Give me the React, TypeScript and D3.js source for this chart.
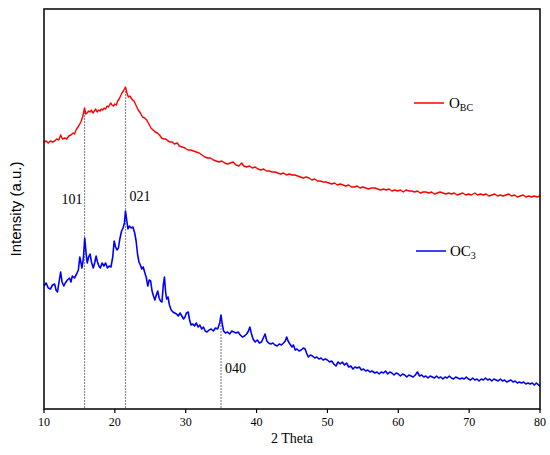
import * as d3 from "d3"

// XRD patterns, 2θ (deg) vs intensity (a.u.)
const obcSeries: [number, number][] = [
  [10.0, 267], [10.3, 268], [10.6, 266], [10.9, 268], [11.2, 267], [11.5, 268], [11.8, 270], [12.1, 269],
  [12.35, 274], [12.6, 270], [12.9, 271], [13.2, 270], [13.5, 273], [13.8, 274], [14.1, 276], [14.3, 275],
  [14.6, 280], [14.9, 283], [15.2, 287], [15.45, 292], [15.72, 301], [15.9, 295], [16.1, 296], [16.3, 298],
  [16.5, 297], [16.7, 299], [16.9, 296], [17.1, 298], [17.3, 300], [17.5, 297], [17.7, 299], [17.9, 298],
  [18.1, 300], [18.3, 299], [18.5, 301], [18.7, 300], [18.9, 303], [19.1, 302], [19.4, 306], [19.6, 304],
  [19.8, 303], [20.0, 305], [20.2, 304], [20.4, 308], [20.6, 310], [20.8, 313], [21.0, 316], [21.2, 318],
  [21.35, 320], [21.5, 322], [21.7, 316], [21.9, 312], [22.1, 313], [22.3, 311], [22.5, 309], [22.7, 308],
  [22.9, 305], [23.1, 302], [23.3, 299], [23.6, 296], [23.9, 292], [24.2, 291], [24.5, 289], [24.8, 285],
  [25.1, 281], [25.4, 279], [25.7, 277], [26.0, 276], [26.3, 274], [26.6, 271], [26.9, 270], [27.2, 270],
  [27.5, 268], [27.8, 267], [28.1, 267], [28.4, 265], [28.8, 266], [29.1, 263], [29.5, 262], [29.9, 261],
  [30.3, 259], [30.7, 259], [31.1, 258], [31.5, 257], [31.9, 256], [32.3, 254], [32.7, 252], [33.1, 251],
  [33.5, 251], [33.9, 249], [34.3, 248], [34.7, 247], [35.1, 248], [35.5, 246], [35.9, 245], [36.3, 246],
  [36.7, 247], [37.1, 244], [37.5, 243], [37.9, 246], [38.2, 243], [38.6, 242], [39.0, 243], [39.4, 241],
  [39.8, 242], [40.2, 240], [40.6, 239], [41.0, 240], [41.4, 238], [41.8, 238], [42.2, 237], [42.6, 237],
  [43.0, 236], [43.4, 235], [43.8, 236], [44.2, 234], [44.6, 235], [45.0, 234], [45.4, 234], [45.8, 233],
  [46.2, 232], [46.6, 231], [47.0, 232], [47.4, 231], [47.8, 229], [48.2, 230], [48.6, 228], [49.0, 228],
  [49.4, 227], [49.8, 227], [50.2, 226], [50.6, 225], [51.0, 226], [51.4, 224], [51.8, 225], [52.2, 224],
  [52.6, 223], [53.0, 224], [53.4, 222], [53.8, 222], [54.2, 223], [54.6, 221], [55.0, 222], [55.4, 221],
  [55.8, 220], [56.2, 221], [56.7, 221], [57.1, 220], [57.5, 219], [57.9, 220], [58.3, 219], [58.7, 220],
  [59.1, 218], [59.5, 219], [59.9, 218], [60.3, 219], [60.7, 217], [61.1, 219], [61.5, 218], [61.9, 218],
  [62.3, 217], [62.7, 218], [63.1, 216], [63.5, 217], [63.9, 217], [64.3, 216], [64.7, 217], [65.1, 215],
  [65.5, 216], [65.9, 217], [66.3, 216], [66.7, 215], [67.1, 216], [67.5, 215], [67.9, 216], [68.3, 214],
  [68.7, 215], [69.1, 216], [69.5, 214], [69.9, 215], [70.3, 214], [70.8, 216], [71.2, 214], [71.6, 215],
  [72.0, 214], [72.4, 215], [72.8, 213], [73.2, 214], [73.6, 215], [74.0, 213], [74.4, 214], [74.8, 213],
  [75.2, 214], [75.6, 215], [76.0, 213], [76.4, 214], [76.8, 212], [77.2, 213], [77.6, 214], [78.0, 212],
  [78.4, 213], [78.8, 212], [79.2, 213], [79.6, 212], [80.0, 213],
]

const oc3Series: [number, number][] = [
  [10.0, 123], [10.3, 126], [10.6, 121], [10.9, 120], [11.2, 124], [11.5, 125], [11.7, 119], [11.9, 117],
  [12.1, 126], [12.35, 137], [12.55, 127], [12.8, 123], [13.0, 126], [13.3, 129], [13.6, 131], [13.8, 127],
  [14.0, 133], [14.3, 131], [14.6, 135], [14.85, 139], [15.05, 152], [15.2, 147], [15.35, 141], [15.55, 150],
  [15.75, 171], [15.95, 155], [16.1, 146], [16.3, 152], [16.5, 155], [16.7, 147], [16.95, 141], [17.15, 146],
  [17.35, 153], [17.55, 147], [17.75, 143], [17.95, 141], [18.2, 146], [18.45, 143], [18.7, 146], [18.95, 141],
  [19.2, 143], [19.45, 142], [19.7, 152], [19.9, 168], [20.1, 162], [20.3, 159], [20.5, 161], [20.7, 170],
  [20.95, 178], [21.15, 181], [21.35, 186], [21.5, 198], [21.65, 190], [21.85, 180], [22.05, 183], [22.3, 181],
  [22.55, 182], [22.8, 176], [23.0, 168], [23.2, 155], [23.4, 147], [23.6, 144], [23.8, 140], [24.0, 142],
  [24.2, 137], [24.45, 131], [24.65, 123], [24.85, 129], [25.05, 128], [25.25, 118], [25.45, 113], [25.65, 109],
  [25.85, 114], [26.05, 118], [26.25, 111], [26.45, 108], [26.65, 107], [26.85, 125], [27.0, 132], [27.15, 118],
  [27.3, 110], [27.5, 112], [27.7, 104], [27.95, 99], [28.2, 97], [28.45, 96], [28.7, 95], [28.95, 93],
  [29.2, 96], [29.45, 93], [29.7, 90], [29.9, 92], [30.1, 96], [30.35, 97], [30.55, 89], [30.75, 84],
  [31.0, 85], [31.25, 83], [31.5, 86], [31.75, 82], [32.0, 84], [32.25, 80], [32.5, 82], [32.75, 78],
  [33.0, 77], [33.3, 79], [33.6, 80], [33.9, 78], [34.2, 81], [34.5, 80], [34.8, 86], [34.98, 94],
  [35.15, 85], [35.35, 78], [35.6, 76], [35.9, 77], [36.2, 75], [36.5, 78], [36.8, 77], [37.1, 76],
  [37.4, 77], [37.7, 74], [38.0, 72], [38.3, 73], [38.6, 75], [38.85, 78], [39.05, 82], [39.25, 76],
  [39.5, 70], [39.8, 67], [40.1, 69], [40.4, 66], [40.7, 67], [40.95, 71], [41.2, 75], [41.45, 68],
  [41.7, 66], [42.0, 65], [42.3, 66], [42.6, 64], [42.9, 63], [43.2, 65], [43.5, 64], [43.8, 66],
  [44.05, 68], [44.25, 72], [44.45, 68], [44.7, 65], [45.0, 62], [45.2, 64], [45.45, 59], [45.7, 60],
  [46.0, 58], [46.3, 59], [46.6, 61], [46.85, 60], [47.05, 56], [47.3, 52], [47.6, 54], [47.9, 53],
  [48.2, 51], [48.5, 52], [48.8, 50], [49.1, 51], [49.4, 49], [49.7, 50], [50.0, 49], [50.3, 47],
  [50.6, 48], [50.9, 45], [51.2, 43], [51.5, 47], [51.8, 45], [52.1, 47], [52.4, 44], [52.7, 46],
  [53.0, 42], [53.3, 43], [53.6, 40], [53.9, 42], [54.2, 41], [54.5, 42], [54.8, 39], [55.1, 40],
  [55.4, 38], [55.7, 39], [56.0, 37], [56.3, 38], [56.7, 36], [57.0, 37], [57.3, 35], [57.6, 37],
  [57.9, 36], [58.2, 38], [58.5, 35], [58.8, 37], [59.1, 36], [59.4, 34], [59.7, 36], [60.0, 35],
  [60.3, 33], [60.6, 35], [60.9, 34], [61.2, 32], [61.5, 34], [61.8, 33], [62.1, 32], [62.4, 34],
  [62.7, 37], [63.0, 33], [63.3, 34], [63.6, 32], [63.9, 33], [64.2, 31], [64.5, 33], [64.8, 32],
  [65.1, 31], [65.4, 33], [65.7, 31], [66.0, 32], [66.3, 30], [66.6, 32], [66.9, 31], [67.2, 33],
  [67.5, 31], [67.8, 30], [68.1, 32], [68.4, 31], [68.7, 30], [69.0, 31], [69.3, 30], [69.6, 32],
  [69.9, 30], [70.2, 29], [70.5, 31], [70.8, 29], [71.1, 30], [71.4, 28], [71.7, 30], [72.0, 29],
  [72.3, 31], [72.6, 29], [72.9, 30], [73.2, 28], [73.5, 30], [73.8, 29], [74.1, 28], [74.4, 30],
  [74.7, 28], [75.0, 29], [75.3, 27], [75.6, 28], [75.9, 29], [76.2, 27], [76.5, 28], [76.8, 26],
  [77.1, 27], [77.4, 26], [77.7, 27], [78.0, 25], [78.3, 26], [78.6, 25], [78.9, 26], [79.2, 24],
  [79.5, 26], [79.8, 24], [80.0, 23],
]

// reflections marked with dashed drop lines
const peakPositions = [15.72, 21.5, 34.98]
const peakLabels = ["101", "021", "040"]
const peakFrom = ["obc", "obc", "oc3"]

const xTicks = [10, 20, 30, 40, 50, 60, 70, 80]

const W = 550
const H = 455
const margin = { top: 9, right: 10, bottom: 46, left: 44 }
const serif = "'Liberation Serif', 'Times New Roman', serif"
const sans = "'Liberation Sans', Arial, sans-serif"

export default function App() {
  const x = d3.scaleLinear().domain([10, 80]).range([margin.left, W - margin.right])
  const y = d3.scaleLinear().domain([0, 400]).range([H - margin.bottom, margin.top])
  const line = d3
    .line<[number, number]>()
    .x((d) => x(d[0]))
    .y((d) => y(d[1]))

  const valueAt = (s: [number, number][], pos: number) => {
    const i = d3.bisector((d: [number, number]) => d[0]).center(s, pos)
    return s[i][1]
  }

  const series = { obc: obcSeries, oc3: oc3Series } as Record<string, [number, number][]>
  const bottom = H - margin.bottom

  return (
    <svg width={W} height={H} style={{ position: "absolute", left: 0, top: 0, background: "#fff" }}>
      {peakPositions.map((p, i) => {
        const top = y(valueAt(series[peakFrom[i]], p)) + 4
        return (
          <line
            key={"pl" + i}
            x1={x(p)}
            x2={x(p)}
            y1={top}
            y2={bottom}
            stroke="#8c8c8c"
            strokeWidth={1.2}
            strokeDasharray="2,1"
          />
        )
      })}
      <path d={line(obcSeries) || ""} fill="none" stroke="#ff0000" strokeWidth={1.4} strokeLinejoin="round" />
      <path d={line(oc3Series) || ""} fill="none" stroke="#0000ff" strokeWidth={1.6} strokeLinejoin="round" />

      <rect
        x={margin.left}
        y={margin.top}
        width={W - margin.left - margin.right}
        height={bottom - margin.top}
        fill="none"
        stroke="#000"
        strokeWidth={1.5}
      />
      {xTicks.map((t) => (
        <g key={t}>
          <line x1={x(t)} x2={x(t)} y1={bottom} y2={bottom + 4} stroke="#000" strokeWidth={1.2} />
          <text x={x(t)} y={bottom + 17} textAnchor="middle" fontFamily={serif} fontSize={12} fill="#000">
            {t}
          </text>
        </g>
      ))}
      <text x={(margin.left + W - margin.right) / 2} y={H - 12} textAnchor="middle" fontFamily={serif} fontSize={14}>
        2 Theta
      </text>
      <text
        transform={`translate(21,${(margin.top + bottom) / 2}) rotate(-90)`}
        textAnchor="middle"
        fontFamily={sans}
        fontSize={15}
      >
        Intensity (a.u.)
      </text>

      {peakPositions.map((p, i) => {
        const lx = i === 0 ? x(p) - 2 : x(p) + 4
        const ly = i === 2 ? 373 : i === 0 ? 204 : 201
        return (
          <text
            key={"lab" + i}
            x={lx}
            y={ly}
            textAnchor={i === 0 ? "end" : "start"}
            fontFamily={serif}
            fontSize={14}
          >
            {peakLabels[i]}
          </text>
        )
      })}

      <line x1={414} x2={444} y1={103} y2={103} stroke="#ff0000" strokeWidth={1.5} />
      <text x={449} y={108} fontFamily={serif} fontSize={15}>
        O<tspan fontSize={10} dy={3}>BC</tspan>
      </text>
      <line x1={416} x2={446} y1={251} y2={251} stroke="#0000ff" strokeWidth={1.5} />
      <text x={450} y={256} fontFamily={serif} fontSize={15}>
        OC<tspan fontSize={10} dy={3}>3</tspan>
      </text>
    </svg>
  )
}
